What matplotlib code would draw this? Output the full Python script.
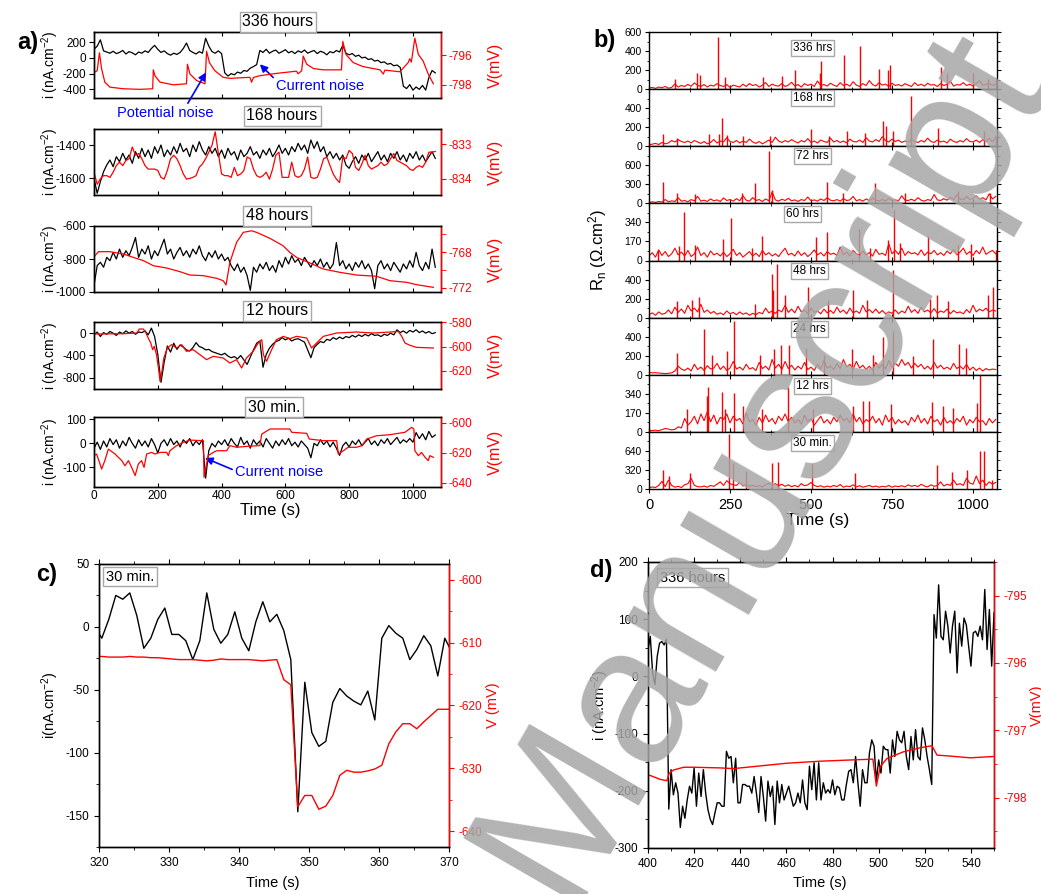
import numpy as np
import matplotlib.pyplot as plt
from matplotlib.ticker import MultipleLocator

W, H = 1041, 894
plt.rcParams['font.family'] = ['Liberation Sans', 'DejaVu Sans']
plt.rcParams['mathtext.default'] = 'regular'
plt.rcParams['axes.linewidth'] = 1.0
plt.rcParams['axes.unicode_minus'] = False

# ---------------- panel a : current (10 s steps) and potential traces ----------------
STEP_A = 10
i_336 = [110, 150, 230, 90, 75, 60, 85, 55, 70, 95, 50, 80, 65, 40, 75, 60, 90, 70, 120, 160,
         110, 70, 90, 55, 35, 60, 45, 70, 120, 190, 95, 70, 50, 80, 60, 250, 150, 80, 60, 90,
         55, -190, -230, -200, -215, -180, -195, -160, -170, -130, -110, -85, 95, 70, 110, 60, 85, 100, 60, 80,
         105, 65, 85, 55, 90, 70, 100, 60, 80, 95, 55, 85, 70, 40, 80, 65, 95, 75, 160, 60,
         40, 55, 20, 35, 0, 10, -20, -10, -40, -30, -60, -50, -80, -70, -100, -90, -120, -360, -390, -340,
         -410, -370, -400, -350, -410, -250, -160, -190]
v_336_t = [0, 10, 17, 24, 34, 50, 92, 144, 184, 186, 191, 207, 249, 290, 293, 301, 322, 348, 353, 362,
           379, 405, 426, 489, 494, 500, 520, 573, 635, 640, 651, 656, 667, 688, 719, 776, 780, 790, 813, 844,
           897, 907, 912, 959, 985, 990, 995, 1006, 1017, 1032, 1048, 1064]
v_336 = [-797.16, -797.04, -795.82, -796.93, -797.82, -798.16, -798.27, -798.31, -798.27, -796.98,
         -797.38, -797.82, -798.0, -797.93, -796.6, -797.27, -797.71, -797.93, -795.71, -796.49,
         -797.04, -797.49, -797.56, -797.49, -797.82, -797.5, -797.38, -797.22, -797.07, -797.25,
         -797.04, -796.04, -796.6, -796.89, -796.98, -796.98, -795.04, -795.93, -796.49, -796.76,
         -796.98, -797.27, -797.0, -797.11, -796.49, -796.22, -796.45, -794.82, -795.93, -796.38,
         -797.27, -797.93]

i_168 = [-1600, -1690, -1620, -1560, -1520, -1490, -1530, -1470, -1500, -1450, -1490, -1460, -1510, -1440, -1480,
         -1420, -1470, -1430, -1480, -1410, -1450, -1400, -1470, -1430, -1460, -1410, -1450, -1390, -1440, -1420,
         -1470, -1400, -1440, -1380, -1430, -1460, -1410, -1450, -1420, -1470, -1430, -1480, -1420, -1460, -1440,
         -1490, -1430, -1470, -1450, -1410, -1460, -1440, -1480, -1430, -1460, -1420, -1470, -1440, -1400, -1450,
         -1420, -1460, -1410, -1440, -1390, -1430, -1400, -1450, -1370, -1420, -1380, -1440, -1410, -1470, -1440,
         -1480, -1450, -1490, -1460, -1520, -1540, -1500, -1470, -1510, -1460, -1490, -1450, -1500, -1470, -1440,
         -1490, -1460, -1500, -1450, -1480, -1440, -1490, -1460, -1500, -1450, -1480, -1440, -1490, -1460, -1500,
         -1470, -1440, -1480]
v_168 = [-833.81, -834.16, -834.0, -833.91, -833.91, -833.96, -833.81, -833.62, -833.52, -833.62,
         -833.47, -833.42, -833.08, -833.32, -833.27, -833.42, -833.62, -833.72, -833.72, -833.72,
         -833.76, -833.96, -834.01, -833.76, -833.42, -833.32, -833.42, -833.62, -833.86, -834.01,
         -833.99, -833.96, -833.91, -833.67, -833.57, -833.42, -833.23, -833.03, -832.64, -833.27,
         -833.86, -833.91, -833.91, -833.96, -833.67, -833.91, -833.86, -833.76, -833.37, -833.42,
         -833.72, -833.91, -833.96, -833.91, -833.81, -834.01, -833.72, -833.32, -833.23, -833.96,
         -833.96, -833.96, -833.52, -833.91, -833.96, -833.91, -833.72, -833.37, -833.96, -833.99,
         -833.96, -833.72, -833.42, -833.37, -833.62, -833.86, -834.01, -834.11, -833.37, -833.42,
         -833.18, -833.27, -833.67, -833.76, -833.57, -833.32, -833.62, -833.72, -833.67, -833.62,
         -833.52, -833.62, -833.57, -833.42, -833.27, -833.47, -833.52, -833.57, -833.62, -833.72,
         -833.76, -833.67, -833.62, -833.67, -833.52, -833.23, -833.23, -833.21]

i_48 = [-960, -840, -820, -850, -790, -810, -760, -800, -740, -790, -750, -780, -730, -670, -790,
        -740, -770, -720, -800, -750, -780, -730, -680, -770, -740, -800, -760, -730, -780, -750,
        -790, -740, -770, -720, -780, -810, -760, -790, -750, -800, -770, -810, -790, -840, -870,
        -830, -880, -850, -900, -990, -850, -880, -830, -860, -820, -870, -840, -880, -810, -850,
        -790, -830, -780, -820, -800, -840, -790, -820, -850, -810, -840, -800, -850, -820, -860,
        -830, -700, -840, -810, -860, -830, -870, -820, -850, -810, -860, -830, -870, -980, -840,
        -810, -860, -830, -870, -820, -850, -880, -830, -860, -810, -850, -760, -840, -870, -820,
        -860, -740, -850]
v_48_t = [3, 14, 50, 92, 123, 155, 186, 228, 270, 301, 343, 385, 405, 414, 426, 447, 468, 494, 510, 552,
          593, 614, 635, 677, 719, 771, 823, 886, 928, 980, 1011, 1064]
v_48 = [-768.41, -767.96, -767.96, -768.22, -768.59, -768.96, -769.52, -769.78, -770.19, -770.56,
        -770.63, -770.93, -771.19, -771.67, -769.15, -766.93, -765.81, -765.63, -765.81, -766.48,
        -767.3, -768.04, -768.59, -769.22, -769.89, -770.26, -770.56, -770.7, -771.19, -771.37,
        -771.63, -771.93]

i_12 = [-30, 20, -60, 10, -20, 30, 0, -40, 20, -10, 40, 0, 30, -20, 20, 10, 40, -30, 90, -60,
        -380, -880, -520, -230, -340, -180, -290, -210, -250, -300, -320, -260, -170, -240, -260, -300, -290, -330, -350, -370,
        -390, -360, -410, -440, -420, -460, -400, -480, -560, -430, -300, -180, -140, -610, -380, -270, -200, -150, -130, -80,
        -120, -90, -140, -110, -100, -130, -160, -300, -440, -260, -200, -150, -170, -110, -130, -80, -110, -70, -100, -60,
        -80, -40, -70, -30, -60, -20, -50, -10, -40, -30, -60, -20, -40, 0, -30, 60, 10, 40, 0, 50,
        20, 60, 10, 40, 0, 30, -10, 10]
v_12_t = [0, 92, 134, 142, 155, 163, 170, 178, 184, 189, 196, 202, 207, 213, 219, 230, 243, 259, 275, 290,
          311, 332, 353, 374, 405, 426, 447, 463, 478, 499, 515, 526, 531, 541, 557, 572, 594, 614, 635, 667,
          682, 698, 719, 761, 823, 876, 928, 954, 965, 975, 991, 1011, 1064]
v_12 = [-589.66, -589.38, -588.83, -585.52, -585.52, -588.83, -592.97, -597.1, -602.62, -599.86,
        -606.76, -617.79, -628.83, -620.55, -609.52, -601.24, -598.48, -601.24, -598.48, -604.0,
        -602.62, -606.76, -610.9, -608.14, -609.52, -613.66, -610.9, -617.79, -609.52, -604.0,
        -597.1, -594.34, -606.76, -612.28, -602.62, -594.34, -591.59, -593.52, -591.59, -592.97,
        -601.24, -597.1, -591.59, -588.83, -588.0, -588.83, -588.0, -587.45, -591.59, -597.1,
        -599.03, -600.69, -601.24]

i_30 = [-20, 5, -25, 10, -15, 20, -5, 15, -20, 10, -10, 25, 0, -20, 15, -10, 10, -15, 20, -5,
        -40, 0, 15, -10, 20, -5, 10, -15, 15, 0, 20, -10, 10, -5, 15, -145, -30, 0, -15, 10,
        -5, 15, -10, 20, 0, -15, 25, -5, 10, -20, 15, -5, 10, -15, 20, 0, -20, 10, -10, 15,
        -5, 20, -10, 5, -15, 10, -5, -20, -60, 0, -10, 15, -5, 10, -15, 5, -20, -50, -10, 5,
        -15, 10, -5, 15, -10, 5, 20, -5, 10, -10, 15, 0, 20, -5, 10, 25, 0, 15, 5, 20,
        5, 45, 20, 40, 15, 50, 25, 35]
v_30_t = [0, 8, 17, 24, 34, 45, 52, 66, 87, 97, 108, 118, 129, 139, 149, 157, 165, 181, 191, 207,
          228, 233, 238, 259, 280, 301, 343, 345, 351, 358, 374, 385, 416, 426, 447, 478, 520, 526, 552, 614,
          620, 667, 675, 719, 761, 766, 782, 797, 823, 840, 855, 886, 928, 975, 996, 1003, 1006, 1017, 1027, 1038,
          1048, 1053, 1064]
v_30 = [-622.0, -620.9, -626.4, -630.9, -625.3, -617.6, -618.7, -620.9, -625.3, -628.7,
        -625.3, -629.8, -635.3, -627.6, -625.3, -629.8, -620.9, -619.8, -620.9, -619.8,
        -619.8, -622.0, -618.7, -615.3, -613.1, -611.6, -612.0, -636.4, -629.8, -622.0,
        -619.8, -618.7, -618.7, -615.3, -616.4, -615.8, -615.3, -607.6, -604.2, -604.2,
        -606.4, -607.1, -610.9, -612.0, -612.0, -620.9, -618.7, -616.4, -616.4, -615.3,
        -610.9, -608.7, -608.0, -606.4, -603.1, -604.2, -618.7, -622.0, -619.8, -623.1,
        -625.3, -622.0, -623.1]

# ---------------- panel b : noise resistance, 10 s background + peaks ----------------
STEP_B = 10
rn_336 = [12, 18, 8, 22, 15, 28, 10, 18, 55, 22, 38, 28, 50, 30, 65, 40, 28, 48, 22, 42, 32, 58, 38, 28, 48, 18, 42,
          32, 22, 52, 28, 58, 38, 48, 22, 42, 68, 28, 52, 38, 32, 58, 28, 42, 72, 32, 48, 22, 58, 38, 52, 28, 85, 38,
          48, 32, 62, 42, 28, 68, 38, 52, 32, 78, 42, 28, 58, 38, 90, 48, 32, 68, 42, 52, 28, 62, 38, 48, 32, 58, 42,
          28, 68, 38, 52, 32, 62, 42, 48, 28, 58, 38, 52, 82, 32, 48, 42, 68, 38, 52, 32, 58, 88, 42, 48, 62, 38, 52]
rn_168 = [15, 22, 30, 18, 40, 25, 35, 60, 45, 70, 50, 40, 55, 35, 60, 45, 30, 50, 25, 40, 70, 35, 55, 45, 90, 50, 40,
          60, 35, 55, 40, 75, 45, 30, 50, 25, 45, 65, 40, 95, 55, 40, 60, 45, 70, 50, 35, 60, 45, 80, 40, 55, 35, 65,
          50, 40, 85, 45, 60, 40, 55, 35, 75, 50, 45, 65, 40, 90, 55, 45, 70, 50, 100, 60, 45, 75, 50, 65, 40, 55, 45,
          70, 50, 40, 60, 45, 85, 50, 40, 65, 45, 55, 35, 75, 50, 40, 60, 45, 80, 50, 45, 65, 40, 70, 50, 85, 45, 95]
rn_72 = [10, 25, 15, 30, 20, 60, 25, 40, 30, 90, 35, 45, 25, 60, 40, 110, 35, 50, 30, 70, 40, 55, 30, 85, 45, 60, 35,
         75, 40, 120, 50, 35, 90, 45, 60, 30, 70, 40, 180, 55, 35, 65, 45, 80, 40, 55, 30, 60, 45, 100, 40, 55, 35, 70,
         45, 90, 50, 40, 60, 35, 75, 45, 55, 110, 40, 60, 35, 70, 45, 85, 50, 40, 60, 35, 80, 45, 55, 40, 120, 50, 45,
         65, 40, 90, 50, 35, 60, 45, 140, 55, 45, 75, 50, 95, 60, 130, 70, 55, 110, 60, 80, 120, 65, 90, 55, 150, 70, 110]
rn_60 = [40, 70, 30, 95, 45, 80, 35, 60, 110, 50, 75, 40, 90, 35, 60, 120, 45, 70, 30, 85, 50, 65, 40, 75, 35, 60, 100,
         45, 70, 30, 55, 80, 40, 65, 35, 90, 50, 70, 40, 60, 35, 75, 110, 50, 65, 40, 85, 45, 70, 35, 60, 95, 50, 70,
         40, 80, 55, 65, 45, 120, 50, 75, 40, 90, 60, 45, 85, 50, 70, 40, 100, 55, 65, 45, 150, 60, 90, 55, 110, 45,
         80, 60, 70, 50, 95, 45, 75, 60, 90, 50, 70, 45, 85, 60, 100, 50, 75, 110, 55, 80, 45, 90, 60, 120, 55, 75, 90, 60]
rn_48 = [30, 50, 25, 60, 35, 45, 80, 40, 110, 55, 90, 45, 130, 70, 100, 60, 140, 55, 80, 45, 65, 35, 50, 30, 70, 40, 55,
         30, 60, 35, 50, 25, 45, 30, 55, 40, 100, 50, 70, 45, 80, 60, 130, 55, 90, 50, 120, 60, 80, 45, 100, 55, 70, 40,
         90, 50, 75, 45, 110, 55, 80, 40, 100, 50, 70, 45, 130, 60, 85, 50, 90, 45, 75, 40, 60, 45, 80, 40, 70, 50, 120,
         55, 85, 45, 110, 60, 80, 50, 95, 45, 70, 55, 90, 40, 75, 50, 60, 40, 85, 50, 130, 60, 90, 70, 100, 60, 80, 70]
rn_24 = [25, 20, 22, 18, 15, 12, 15, 20, 40, 90, 60, 45, 70, 40, 110, 55, 80, 45, 95, 60, 70, 120, 55, 90, 45, 70, 140,
         60, 80, 50, 110, 60, 75, 45, 130, 65, 90, 50, 160, 70, 110, 55, 140, 65, 100, 50, 90, 60, 130, 55, 80, 45, 110,
         60, 150, 70, 90, 55, 120, 65, 160, 80, 110, 60, 140, 70, 100, 55, 90, 50, 130, 70, 110, 60, 150, 80, 120, 90,
         160, 100, 130, 70, 120, 80, 110, 60, 90, 55, 130, 70, 100, 60, 80, 55, 120, 65, 90, 60, 110, 50, 80, 45, 70, 40,
         65, 50, 60, 55]
rn_12 = [10, 12, 15, 10, 20, 30, 25, 18, 22, 45, 35, 120, 60, 90, 140, 70, 160, 100, 180, 90, 150, 70, 130, 110, 160, 80,
         140, 100, 120, 70, 170, 90, 110, 60, 130, 80, 150, 90, 120, 70, 140, 100, 160, 90, 130, 80, 110, 70, 150, 90,
         120, 60, 100, 140, 80, 110, 70, 130, 90, 150, 100, 120, 80, 160, 90, 130, 70, 110, 90, 140, 80, 120, 60, 150, 90,
         130, 70, 110, 80, 100, 60, 130, 90, 150, 80, 120, 70, 140, 90, 110, 60, 130, 80, 100, 70, 120, 90, 140, 60, 110,
         80, 130, 90, 100, 60, 120, 80, 110]
rn_30 = [20, 35, 25, 60, 130, 40, 150, 60, 30, 45, 25, 70, 90, 180, 60, 40, 35, 50, 30, 60, 45, 80, 120, 60, 140, 90, 70,
         60, 110, 50, 80, 45, 60, 40, 55, 35, 70, 100, 60, 90, 50, 80, 45, 70, 40, 60, 35, 90, 55, 70, 110, 60, 40, 55,
         30, 50, 35, 60, 40, 75, 30, 50, 40, 70, 35, 55, 30, 45, 60, 35, 50, 30, 45, 35, 60, 30, 50, 40, 55, 35, 70, 45,
         60, 40, 80, 50, 35, 70, 45, 60, 120, 50, 80, 60, 150, 70, 90, 60, 180, 100, 80, 220, 90, 150, 60, 120, 80, 110]

pk_336_t = [80, 149, 157, 214, 235, 351, 409, 451, 528, 530, 602, 651, 711, 739, 744, 900, 919, 999, 1047, 1071]
pk_336 = [105, 168, 150, 544, 126, 123, 140, 204, 168, 291, 361, 449, 210, 204, 256, 228, 168, 168, 105, 116]
pk_168_t = [44, 86, 186, 217, 224, 240, 289, 373, 500, 557, 610, 667, 723, 731, 754, 809, 893, 1034, 1071]
pk_168 = [132, 87, 132, 129, 296, 122, 104, 111, 181, 104, 157, 139, 261, 209, 157, 529, 191, 157, 111]
pk_72_t = [42, 85, 142, 288, 327, 370, 381, 550, 600, 698, 790, 955, 1052]
pk_72 = [329, 159, 149, 170, 319, 823, 212, 335, 170, 319, 159, 202, 170]
pk_60_t = [27, 93, 108, 142, 228, 252, 318, 348, 515, 550, 649, 682, 739, 756, 775, 862, 955, 993, 1071]
pk_60 = [90, 129, 436, 135, 190, 382, 114, 217, 211, 256, 277, 111, 181, 451, 156, 220, 135, 150, 90]
pk_48_t = [85, 132, 155, 327, 381, 384, 396, 420, 492, 553, 631, 672, 752, 867, 888, 924, 1047, 1063]
pk_48 = [172, 189, 218, 147, 453, 295, 568, 242, 319, 189, 295, 189, 505, 196, 242, 172, 242, 323]
pk_24_t = [87, 170, 193, 240, 262, 343, 386, 407, 433, 485, 541, 626, 692, 723, 752, 816, 876, 958, 978]
pk_24 = [232, 484, 204, 249, 565, 204, 267, 309, 309, 284, 204, 274, 204, 400, 460, 196, 379, 319, 277]
pk_12_t = [116, 178, 181, 226, 235, 263, 291, 348, 430, 507, 629, 660, 680, 746, 872, 908, 937, 1011, 1020]
pk_12 = [200, 319, 400, 355, 200, 349, 230, 200, 400, 200, 230, 274, 274, 245, 265, 230, 215, 259, 505]
pk_30_t = [44, 63, 127, 248, 260, 298, 379, 399, 502, 636, 888, 934, 980, 1020, 1035, 1058]
pk_30 = [326, 213, 270, 927, 438, 298, 438, 455, 421, 270, 410, 281, 315, 635, 646, 157]

# ---------------- panel c : 30 min, zoom around 350 s ----------------
c_t0 = 319.4
c_i = [0, -9, 6, 25, 22, 27, 9, -17, -9, 6, 15, -6, -6, -11, -26, -11, 27, -2, -13, -6, 12, -9, -19, 4, 20, 4,
       10, -3, -26, -147, -44, -84, -95, -91, -60, -49, -55, -59, -62, -51, -74, -9, 1, -5, -9, -26, -18, -7, -15,
       -39, -9, -20]
c_v = [-612.2, -612.2, -612.3, -612.3, -612.3, -612.2, -612.3, -612.3, -612.4, -612.4, -612.5, -612.6, -612.7,
       -612.7, -612.7, -612.8, -612.9, -612.8, -612.6, -612.7, -612.7, -612.7, -612.7, -612.8, -612.9, -612.8,
       -612.7, -615.9, -616.7, -636.1, -634.3, -634.3, -636.5, -636.0, -634.3, -631.1, -630.3, -630.6, -630.6,
       -630.4, -630.1, -629.5, -626.1, -624.2, -622.9, -622.9, -623.7, -622.6, -621.6, -620.6, -620.6, -620.6]

# ---------------- panel d : 336 hours, zoom 400-550 s ----------------
d_t0 = 400
d_i = [47, 70, 6, -14, 35, 58, 61, 55, 65,
       -232, -163, -207, -186, -204, -264, -227, -248, -216, -192,
       -204, -160, -227, -169, -210, -163, -204, -233, -250, -259,
       -239, -221, -221, -227, -227, -131, -143, -140, -186, -143,
       -221, -221, -189, -189, -192, -192, -204, -175, -204, -238,
       -175, -210, -253, -183, -210, -192, -259, -183, -221, -189,
       -216, -204, -192, -210, -227, -221, -204, -221, -181, -221,
       -233, -157, -198, -151, -216, -151, -216, -186, -204, -198,
       -204, -181, -207, -192, -195, -216, -216, -189, -166, -163,
       -186, -140, -186, -227, -163, -186, -186, -134, -111, -122,
       -183, -146, -169, -122, -128, -128, -169, -111, -140, -96,
       -111, -116, -96, -140, -163, -105, -146, -93, -140, -146,
       -90, -111, -140, -163, -189,
       108, 67, 160, 70, 64, 114, 88, 41, 88, 114, 6, 93, 53, 102, 90, 53, 18, 76, 79, 70, 88, 64, 152, 47, 117, 18, 111]
d_v_t = [400, 405.3, 408.2, 409.2, 411.1, 415.5, 419.8, 431.4, 437.1, 445.8, 460.3, 474.7, 489.2, 497.5, 498.1,
         499.0, 500.7, 503.6, 510.8, 518.1, 523.1, 525.3, 529.6, 539.7, 549.9]
d_v = [-797.66, -797.73, -797.75, -797.64, -797.59, -797.55, -797.55, -797.56, -797.57, -797.54, -797.49, -797.46,
       -797.44, -797.43, -797.59, -797.83, -797.54, -797.42, -797.32, -797.26, -797.23, -797.37, -797.38, -797.41,
       -797.39]


def rect(x0, y0, x1, y1):
    return [x0 / W, 1 - y1 / H, (x1 - x0) / W, (y1 - y0) / H]


def ftext(x, y, s, **kw):
    return fig.text(x / W, 1 - y / H, s, **kw)


BOX = dict(boxstyle='square,pad=0.18', fc='white', ec='#a8a8a8', lw=1.0)

fig = plt.figure(figsize=(W / 100, H / 100), dpi=100)

# ----- panel a -----
a_rows = [
    (i_336, v_336_t, v_336, (-510, 330), [200, 0, -200, -400], (-798.9, -794.4), [-796, -798], [], '336 hours', 32, 98, 278, 22),
    (i_168, np.arange(len(v_168)) * STEP_A, v_168, (-1700, -1304), [-1400, -1600], (-834.47, -832.56), [-833, -834], [], '168 hours', 129, 195, 282, 116),
    (i_48, v_48_t, v_48, (-1000, -600), [-600, -800, -1000], (-772.45, -765.1), [-768, -772], [-766, -770], '48 hours', 226, 292, 277, 216),
    (i_12, v_12_t, v_12, (-1000, 200), [0, -400, -800], (-635.2, -579.7), [-580, -600, -620], [], '12 hours', 322, 389, 277, 311),
    (i_30, v_30_t, v_30, (-182, 110), [100, 0, -100], (-642.9, -596.2), [-600, -620, -640], [], '30 min.', 417, 487, 274, 407),
]
a_axes = []
for k, (iv, vt, vv, ylim, yt, vlim, vtk, vminor, title, top, bot, tx, ty) in enumerate(a_rows):
    ax = fig.add_axes(rect(94, top, 441, bot))
    ax.plot(np.arange(len(iv)) * STEP_A, iv, color='black', lw=0.9)
    ax.set_xlim(0, 1088)
    ax.set_ylim(*ylim)
    ax.set_yticks(yt)
    ax.xaxis.set_major_locator(MultipleLocator(200))
    ax.tick_params(axis='y', labelsize=8.5, length=3.5, pad=2)
    ax.tick_params(axis='x', labelsize=8.5, length=3, direction='in', top=True, pad=2)
    if k < 4:
        ax.tick_params(labelbottom=False)
    ax2 = ax.twinx()
    ax2.plot(vt, vv, color='red', lw=0.9)
    ax2.set_ylim(*vlim)
    ax2.set_yticks(vtk)
    if vminor:
        ax2.set_yticks(vminor, minor=True)
    ax2.tick_params(axis='y', which='both', colors='red', labelsize=8.5, length=3.5, pad=2)
    ax2.spines['right'].set_color('red')
    a_axes.append((ax, ax2))
    ftext(tx, ty, title, ha='center', va='center', fontsize=11.5, bbox=BOX)
    cy = (top + bot) / 2
    ftext(50, cy, 'i (nA.cm$^{-2}$)', rotation=90, ha='center', va='center', fontsize=10)
    ftext(495, cy, 'V(mV)', rotation=90, ha='center', va='center', fontsize=11.5, color='red')
ftext(270, 510, 'Time (s)', ha='center', va='center', fontsize=12)

arrow = dict(arrowstyle='-|>', color='blue', lw=1.2, mutation_scale=11, shrinkA=0, shrinkB=0)
a_axes[0][1].annotate('Potential noise', xy=(351, -797.16), xytext=(165, H - 113), textcoords='figure pixels',
                      ha='center', va='center', color='blue', fontsize=10.5, annotation_clip=False,
                      arrowprops=dict(arrow, relpos=(0.72, 1.0)))
a_axes[0][0].annotate('Current noise', xy=(520, -81), xytext=(320, H - 86), textcoords='figure pixels',
                      ha='center', va='center', color='blue', fontsize=10.5, annotation_clip=False,
                      arrowprops=dict(arrow, relpos=(0.05, 0.6)))
a_axes[4][0].annotate('Current noise', xy=(348, -61), xytext=(279, H - 472), textcoords='figure pixels',
                      ha='center', va='center', color='blue', fontsize=10.5, annotation_clip=False,
                      arrowprops=dict(arrow, relpos=(0.0, 0.6)))

# ----- panel b -----
b_rows = [
    (rn_336, pk_336_t, pk_336, 600, [0, 200, 400, 600], '336 hrs', 0.47, 0.72),
    (rn_168, pk_168_t, pk_168, 600, [0, 200, 400], '168 hrs', 0.47, 0.84),
    (rn_72, pk_72_t, pk_72, 900, [0, 300, 600], '72 hrs', 0.47, 0.83),
    (rn_60, pk_60_t, pk_60, 510, [0, 170, 340], '60 hrs', 0.44, 0.81),
    (rn_48, pk_48_t, pk_48, 600, [0, 200, 400], '48 hrs', 0.46, 0.81),
    (rn_24, pk_24_t, pk_24, 600, [0, 200, 400], '24 hrs', 0.46, 0.80),
    (rn_12, pk_12_t, pk_12, 510, [0, 170, 340], '12 hrs', 0.47, 0.80),
    (rn_30, pk_30_t, pk_30, 960, [0, 320, 640], '30 min.', 0.47, 0.80),
]
b_edges = np.linspace(32, 489, len(b_rows) + 1)
for k, (base, pt, ph, ymax, yt, lab, lx, ly) in enumerate(b_rows):
    ax = fig.add_axes(rect(649, b_edges[k], 997, b_edges[k + 1]))
    ax.plot(np.arange(len(base)) * STEP_B, base, color='red', lw=0.8)
    ax.vlines(pt, 0, ph, color='red', lw=1.0)
    ax.set_xlim(0, 1074)
    ax.set_ylim(0, ymax)
    ax.set_yticks(yt)
    ax.yaxis.set_minor_locator(MultipleLocator(yt[1] / 2))
    ax.xaxis.set_major_locator(MultipleLocator(250))
    ax.xaxis.set_minor_locator(MultipleLocator(125))
    ax.tick_params(axis='y', which='both', labelsize=7.5, length=3, right=True, pad=2)
    ax.tick_params(axis='y', which='minor', length=1.8)
    ax.tick_params(axis='x', which='both', direction='in', top=True, length=3)
    ax.tick_params(axis='x', which='minor', length=1.8)
    if k < len(b_rows) - 1:
        ax.tick_params(labelbottom=False)
    else:
        ax.tick_params(axis='x', labelsize=10.5, direction='out')
    ax.text(lx, ly, lab, transform=ax.transAxes, ha='center', va='center', fontsize=8.5, bbox=BOX)
ftext(818, 521, 'Time (s)', ha='center', va='center', fontsize=12.5)
ftext(598, 250, 'R$_n$ ($\\Omega$.cm$^2$)', rotation=90, ha='center', va='center', fontsize=12)

# ----- panel c -----
ax = fig.add_axes(rect(99, 564, 449, 847))
ax.plot(c_t0 + np.arange(len(c_i)), c_i, color='black', lw=1.0)
ax.set_xlim(320, 370)
ax.set_ylim(-175, 50)
ax.set_yticks([50, 0, -50, -100, -150])
ax.yaxis.set_minor_locator(MultipleLocator(25))
ax.xaxis.set_major_locator(MultipleLocator(10))
ax.xaxis.set_minor_locator(MultipleLocator(5))
ax.tick_params(which='both', labelsize=8.5, length=3.5, top=True)
ax.tick_params(which='minor', length=2)
ax2 = ax.twinx()
ax2.plot(c_t0 + np.arange(len(c_v)), c_v, color='red', lw=1.0)
ax2.set_ylim(-642.5, -597.5)
ax2.set_yticks([-600, -610, -620, -630, -640])
ax2.yaxis.set_minor_locator(MultipleLocator(5))
ax2.tick_params(axis='y', which='both', colors='red', labelsize=8.5, length=3.5)
ax2.tick_params(axis='y', which='minor', length=2)
ax2.spines['right'].set_color('red')
ax.text(0.02, 0.955, '30 min.', transform=ax.transAxes, ha='left', va='center', fontsize=10.5, bbox=BOX)
ftext(50, 705, 'i(nA.cm$^{-2}$)', rotation=90, ha='center', va='center', fontsize=10.5)
ftext(493, 705, 'V (mV)', rotation=90, ha='center', va='center', fontsize=10.5, color='red')
ftext(273, 883, 'Time (s)', ha='center', va='center', fontsize=10.5)

# ----- panel d -----
ax = fig.add_axes(rect(648, 562, 994, 848))
ax.plot(d_t0 + np.arange(len(d_i)), d_i, color='black', lw=1.0)
ax.set_xlim(400, 550)
ax.set_ylim(-300, 200)
ax.set_yticks([200, 100, 0, -100, -200, -300])
ax.yaxis.set_minor_locator(MultipleLocator(50))
ax.xaxis.set_major_locator(MultipleLocator(20))
ax.xaxis.set_minor_locator(MultipleLocator(10))
ax.tick_params(which='both', labelsize=8.5, length=3.5, top=True)
ax.tick_params(which='minor', length=2)
ax2 = ax.twinx()
ax2.plot(d_v_t, d_v, color='red', lw=1.0)
ax2.set_ylim(-798.75, -794.5)
ax2.set_yticks([-795, -796, -797, -798])
ax2.yaxis.set_minor_locator(MultipleLocator(0.5))
ax2.tick_params(axis='y', which='both', colors='red', labelsize=8.5, length=3.5)
ax2.tick_params(axis='y', which='minor', length=2)
ax2.spines['right'].set_color('red')
ax.text(0.035, 0.945, '336 hours', transform=ax.transAxes, ha='left', va='center', fontsize=10.5, bbox=BOX)
ftext(600, 705, 'i (nA.cm$^{-2}$)', rotation=90, ha='center', va='center', fontsize=10.5)
ftext(1037, 705, 'V(mV)', rotation=90, ha='center', va='center', fontsize=10.5, color='red')
ftext(820, 883, 'Time (s)', ha='center', va='center', fontsize=10.5)

# panel letters
for lab, x, y in [('a)', 28, 43), ('b)', 605, 40), ('c)', 47, 575), ('d)', 601, 570)]:
    ftext(x, y, lab, ha='center', va='center', fontsize=17, fontweight='bold')

# watermark
ftext(762, 462, 'Manuscript', rotation=60, ha='center', va='center', fontsize=142,
      color='#a6a6a6', alpha=0.85, zorder=100)

fig.savefig('out.png', dpi=100)
